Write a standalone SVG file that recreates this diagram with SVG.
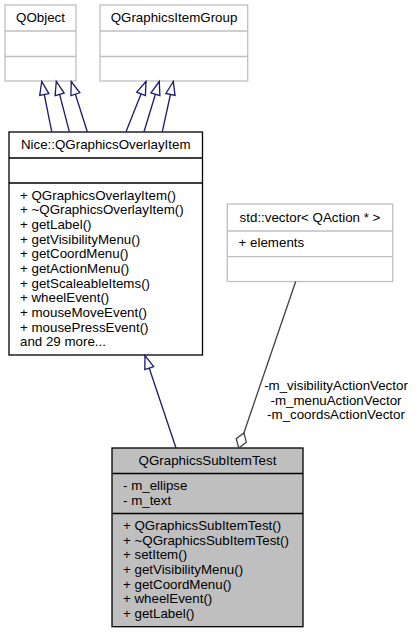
<svg xmlns="http://www.w3.org/2000/svg" width="417" height="633" viewBox="0 0 417 633">
<style>
text{font-family:"Liberation Sans",Arial,Helvetica,sans-serif;font-size:13.33px;fill:#000}
.c{text-anchor:middle}
.ghost{fill:#fff;stroke:#bfbfbf;stroke-width:1.3}
.gline{stroke:#bfbfbf;stroke-width:1.3}
.doc{fill:#fff;stroke:#000;stroke-width:1.3}
.sel{fill:#bfbfbf;stroke:#000;stroke-width:1.3}
.bline{stroke:#000;stroke-width:1.3}
.inh{fill:none;stroke:#191970;stroke-width:1.3;marker-end:url(#tri)}
.use{fill:none;stroke:#404040;stroke-width:1.3;marker-end:url(#dia)}
</style>
<defs>
<marker id="tri" markerUnits="userSpaceOnUse" markerWidth="30" markerHeight="30" refX="0" refY="0" orient="auto" overflow="visible">
<path d="M0,0 L-13.3,-4.67 L-13.3,4.67 Z" fill="#fff" stroke="#191970" stroke-width="1.3"/>
</marker>
<marker id="dia" markerUnits="userSpaceOnUse" markerWidth="30" markerHeight="30" refX="0" refY="0" orient="auto" overflow="visible">
<path d="M0,0 L-8,-5.33 L-16,0 L-8,5.33 Z" fill="#fff" stroke="#404040" stroke-width="1.3"/>
</marker>
</defs>

<g id="QObject">
<rect class="ghost" x="5" y="5" width="71" height="76"/>
<line class="gline" x1="5" y1="31" x2="76" y2="31"/>
<line class="gline" x1="5" y1="56.5" x2="76" y2="56.5"/>
<text class="c" x="40.5" y="22">QObject</text>
</g>

<g id="QGraphicsItemGroup">
<rect class="ghost" x="100" y="5" width="147.7" height="76"/>
<line class="gline" x1="100" y1="31" x2="247.7" y2="31"/>
<line class="gline" x1="100" y1="56.5" x2="247.7" y2="56.5"/>
<text class="c" x="174" y="22">QGraphicsItemGroup</text>
</g>

<g id="QGraphicsOverlayItem">
<rect class="doc" x="9" y="132" width="193.5" height="223"/>
<line class="bline" x1="9" y1="158" x2="202.5" y2="158"/>
<line class="bline" x1="9" y1="183" x2="202.5" y2="183"/>
<text class="c" x="105.7" y="149">Nice::QGraphicsOverlayItem</text>
<text x="20" y="199.5">+ QGraphicsOverlayItem()</text>
<text x="20" y="214.2">+ ~QGraphicsOverlayItem()</text>
<text x="20" y="228.8">+ getLabel()</text>
<text x="20" y="243.5">+ getVisibilityMenu()</text>
<text x="20" y="258.2">+ getCoordMenu()</text>
<text x="20" y="272.8">+ getActionMenu()</text>
<text x="20" y="287.5">+ getScaleableItems()</text>
<text x="20" y="302.2">+ wheelEvent()</text>
<text x="20" y="316.9">+ mouseMoveEvent()</text>
<text x="20" y="331.5">+ mousePressEvent()</text>
<text x="20" y="346.2">and 29 more...</text>
</g>

<g id="QActionVector">
<rect class="ghost" x="227.3" y="204" width="165.4" height="77.5"/>
<line class="gline" x1="227.3" y1="231" x2="392.7" y2="231"/>
<line class="gline" x1="227.3" y1="256.7" x2="392.7" y2="256.7"/>
<text class="c" x="310" y="222">std::vector&lt; QAction * &gt;</text>
<text x="238.6" y="246.8">+ elements</text>
</g>

<g id="QGraphicsSubItemTest">
<rect class="sel" x="112" y="448" width="191" height="178.7"/>
<line class="bline" x1="112" y1="473.5" x2="303" y2="473.5"/>
<line class="bline" x1="112" y1="513.5" x2="303" y2="513.5"/>
<text class="c" x="207.5" y="465">QGraphicsSubItemTest</text>
<text x="123" y="490">- m_ellipse</text>
<text x="123" y="504.7">- m_text</text>
<text x="123" y="530">+ QGraphicsSubItemTest()</text>
<text x="123" y="544.7">+ ~QGraphicsSubItemTest()</text>
<text x="123" y="559.3">+ setItem()</text>
<text x="123" y="574">+ getVisibilityMenu()</text>
<text x="123" y="588.7">+ getCoordMenu()</text>
<text x="123" y="603.3">+ wheelEvent()</text>
<text x="123" y="618">+ getLabel()</text>
</g>

<g id="connectors">
<path class="inh" d="M51.7,131.7 L41.7,81.5"/>
<path class="inh" d="M69.3,131.7 L56.3,81.5"/>
<path class="inh" d="M87.3,131.7 L71.3,81.5"/>
<path class="inh" d="M126,131.7 L146,81.5"/>
<path class="inh" d="M144,131.7 L159.3,81.5"/>
<path class="inh" d="M162.3,131.7 L173.3,81.5"/>
<path class="inh" d="M176,448 L145,355.5"/>
<path class="use" d="M295.7,281.5 L238.7,448"/>
<text class="c" x="336" y="390">-m_visibilityActionVector</text>
<text class="c" x="336" y="404.7">-m_menuActionVector</text>
<text class="c" x="336" y="419.3">-m_coordsActionVector</text>
</g>
</svg>
